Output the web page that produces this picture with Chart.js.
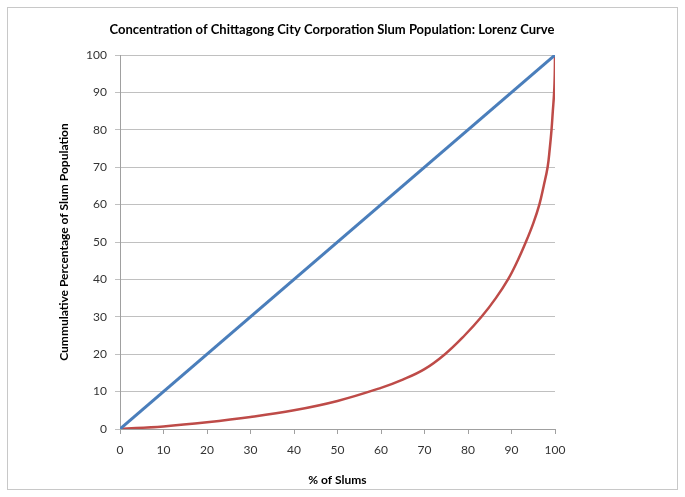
<!DOCTYPE html>
<html>
<head>
<meta charset="utf-8">
<script src="https://cdn.jsdelivr.net/npm/chart.js@4.4.1/dist/chart.umd.min.js"></script>
<style>
    html, body { margin: 0; padding: 0; background: #fff; }
    #wrap { width: 685px; height: 497px; }
</style>
</head>
<body>
<div id="wrap"><canvas id="lorenz-chart" width="685" height="497"></canvas></div>
<script>
// line of equality
var equalX = [0, 100];
var equalY = [0, 100];
// lorenz curve
var lorenzX = [0, 10, 20, 30, 40, 50, 60, 65, 70, 74.7, 79.2, 83.1, 86.4, 89.2, 91.4, 93.3, 95, 96.4, 97.4, 98.3, 98.8, 99.2, 99.5, 99.8, 99.95, 100];
var lorenzY = [0, 0.7, 1.8, 3.2, 5, 7.5, 11, 13.2, 16, 20, 25, 30, 35, 40, 45, 50, 55, 60, 65, 70, 75, 80, 85, 90, 95, 100];
var yTicks = [0, 10, 20, 30, 40, 50, 60, 70, 80, 90, 100];
var xTicks = [0, 10, 20, 30, 40, 50, 60, 70, 80, 90, 100];
var chartTitle = 'Concentration of Chittagong City Corporation Slum Population: Lorenz Curve';

function toPoints(xs, ys) {
    var pts = [];
    for (var i = 0; i < xs.length; i++) {
        pts.push({ x: xs[i], y: ys[i] });
    }
    return pts;
}

var fontFamily = "Lato, 'Noto Sans', sans-serif";

// light grey frame round the whole chart, and the title centred on the canvas
var frame = {
    id: 'frame',
    beforeDraw: function (chart) {
        var ctx = chart.ctx;
        ctx.save();
        ctx.fillStyle = '#fff';
        ctx.fillRect(0, 0, chart.width, chart.height);
        ctx.strokeStyle = '#c8c8c8';
        ctx.lineWidth = 1;
        ctx.strokeRect(7.5, 7.5, 670, 482);
        ctx.restore();
    },
    afterDraw: function (chart) {
        var ctx = chart.ctx;
        ctx.save();
        ctx.fillStyle = '#000';
        ctx.font = 'bold 13px ' + fontFamily;
        ctx.textAlign = 'center';
        ctx.textBaseline = 'middle';
        ctx.fillText(chartTitle, 332, 30);
        ctx.restore();
    }
};

var ctx = document.getElementById('lorenz-chart').getContext('2d');
var chart = new Chart(ctx, {
    type: 'scatter',
    data: {
        datasets: [
            {
                label: 'Equality',
                data: toPoints(equalX, equalY),
                showLine: true,
                borderColor: '#4a7ebb',
                borderWidth: 3,
                pointRadius: 0,
                fill: false
            },
            {
                label: 'Lorenz',
                data: toPoints(lorenzX, lorenzY),
                showLine: true,
                borderColor: '#be4b48',
                borderWidth: 2.5,
                pointRadius: 0,
                tension: 0.4,
                fill: false
            }
        ]
    },
    options: {
        responsive: false,
        animation: false,
        devicePixelRatio: 1,
        layout: { padding: { left: 57, right: 130, top: 55, bottom: 10 } },
        plugins: {
            legend: { display: false },
            tooltip: { enabled: false },
            title: { display: false }
        },
        scales: {
            x: {
                type: 'linear',
                min: 0,
                max: 100,
                afterBuildTicks: function (scale) {
                    scale.ticks = xTicks.map(function (v) { return { value: v }; });
                },
                afterFit: function (scale) { scale.height = 58; },
                grid: {
                    drawOnChartArea: false,
                    drawTicks: true,
                    tickLength: 5,
                    color: '#a0a0a0'
                },
                border: { color: '#a0a0a0' },
                ticks: {
                    color: '#333',
                    padding: 9,
                    maxRotation: 0,
                    font: { family: fontFamily, size: 12 }
                },
                title: {
                    display: true,
                    text: '% of Slums',
                    color: '#000',
                    font: { family: fontFamily, size: 12, weight: 'bold' },
                    padding: { top: 10, bottom: 0 }
                }
            },
            y: {
                type: 'linear',
                min: 0,
                max: 100,
                afterBuildTicks: function (scale) {
                    scale.ticks = yTicks.map(function (v) { return { value: v }; });
                },
                afterFit: function (scale) { scale.width = 63; },
                grid: {
                    color: '#c0c0c0',
                    drawTicks: true,
                    tickLength: 5
                },
                border: { color: '#a0a0a0' },
                ticks: {
                    color: '#333',
                    padding: 8,
                    font: { family: fontFamily, size: 12 }
                },
                title: {
                    display: true,
                    text: 'Cummulative Percentage of Slum Population',
                    color: '#000',
                    font: { family: fontFamily, size: 12, weight: 'bold' },
                    padding: { top: 0, bottom: 4 }
                }
            }
        }
    },
    plugins: [frame]
});
</script>
</body>
</html>
